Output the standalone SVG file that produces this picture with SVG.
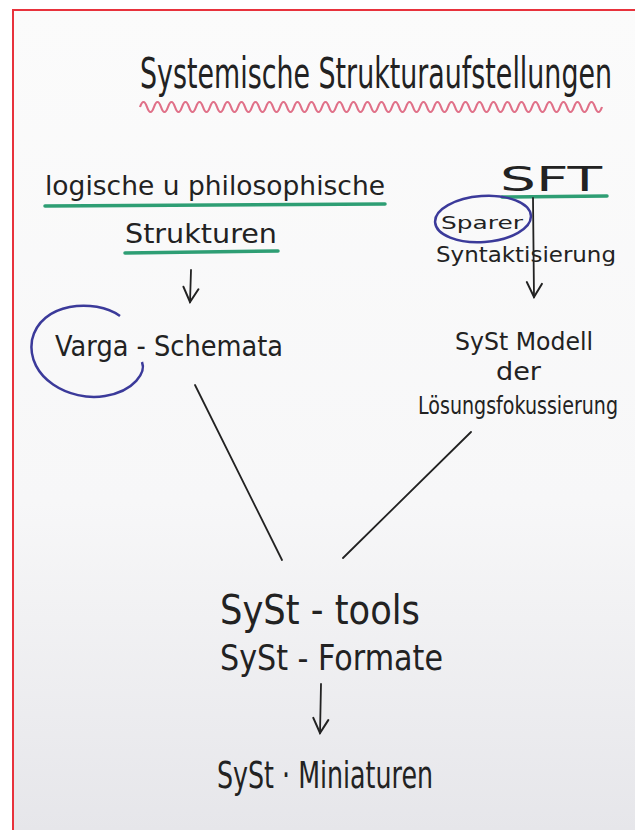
<svg xmlns="http://www.w3.org/2000/svg" width="635" height="830" viewBox="0 0 635 830">
<defs>
<linearGradient id="paper" x1="0" y1="0" x2="0" y2="1">
<stop offset="0" stop-color="#fbfbfb"/>
<stop offset="0.6" stop-color="#f7f7f8"/>
<stop offset="1" stop-color="#e6e6ea"/>
</linearGradient>
<marker id="ah" viewBox="0 0 20 20" refX="18" refY="10" markerWidth="20" markerHeight="20" markerUnits="userSpaceOnUse" orient="auto">
<path d="M5,2 L18,10 L3,17" fill="none" stroke="#222" stroke-width="2" stroke-linecap="round"/>
</marker>
<style>
.t{font-family:"DejaVu Sans","Liberation Sans",sans-serif;fill:#222;}
.g{stroke:#2e9e74;stroke-width:3.5;fill:none;stroke-linecap:round;}
.b{stroke:#3b3a9a;stroke-width:2.5;fill:none;}
.c{stroke:#222;stroke-width:1.8;fill:none;stroke-linecap:round;}
</style>
</defs>
<rect x="0" y="0" width="635" height="830" fill="#ffffff"/>
<rect x="13" y="10" width="622" height="820" fill="url(#paper)"/>
<path d="M13,830 L13,10 L635,10" fill="none" stroke="#e8323c" stroke-width="2"/>

<g id="title">
<text class="t" x="0" y="0" font-size="25" textLength="472" lengthAdjust="spacingAndGlyphs" transform="translate(140,88) scale(1,1.68)">Systemische Strukturaufstellungen</text>
<path d="M140,107 q3.5,-10 7,0 t7,0 t7,0 t7,0 t7,0 t7,0 t7,0 t7,0 t7,0 t7,0 t7,0 t7,0 t7,0 t7,0 t7,0 t7,0 t7,0 t7,0 t7,0 t7,0 t7,0 t7,0 t7,0 t7,0 t7,0 t7,0 t7,0 t7,0 t7,0 t7,0 t7,0 t7,0 t7,0 t7,0 t7,0 t7,0 t7,0 t7,0 t7,0 t7,0 t7,0 t7,0 t7,0 t7,0 t7,0 t7,0 t7,0 t7,0 t7,0 t7,0 t7,0 t7,0 t7,0 t7,0 t7,0 t7,0 t7,0 t7,0 t7,0 t7,0 t7,0 t7,0 t7,0 t7,0 t7,0 t7,0" fill="none" stroke="#e07088" stroke-width="2.2"/>
</g>

<g id="logische">
<text class="t" x="45" y="195" font-size="27" textLength="340" lengthAdjust="spacingAndGlyphs">logische u philosophische</text>
<path class="g" d="M45,206 L385,204"/>
<text class="t" x="125" y="243" font-size="27" textLength="152" lengthAdjust="spacingAndGlyphs">Strukturen</text>
<path class="g" d="M125,253 L278,251"/>
</g>

<g id="varga">
<text class="t" x="55" y="356" font-size="28" textLength="228" lengthAdjust="spacingAndGlyphs">Varga - Schemata</text>
<path class="b" d="M120,316 C95,298 40,302 32,340 C26,378 70,402 105,396 C135,391 146,372 142,362"/>
</g>

<g id="sft">
<text class="t" x="500" y="191" font-size="34" textLength="102" lengthAdjust="spacingAndGlyphs">SFT</text>
<path class="g" d="M502,197 L607,196"/>
<text class="t" x="441" y="229" font-size="18" textLength="82" lengthAdjust="spacingAndGlyphs">Sparer</text>
<ellipse class="b" cx="483" cy="219" rx="48" ry="23" transform="rotate(-4 483 219)"/>
<text class="t" x="436" y="262" font-size="21" textLength="180" lengthAdjust="spacingAndGlyphs">Syntaktisierung</text>
</g>

<g id="modell">
<text class="t" x="455" y="350" font-size="25" textLength="138" lengthAdjust="spacingAndGlyphs">SySt Modell</text>
<text class="t" x="496" y="380" font-size="25" textLength="45" lengthAdjust="spacingAndGlyphs">der</text>
<text class="t" x="0" y="0" font-size="18" textLength="200" lengthAdjust="spacingAndGlyphs" transform="translate(418,414) scale(1,1.33)">Lösungsfokussierung</text>
</g>

<g id="tools">
<text class="t" x="220" y="624" font-size="40" textLength="200" lengthAdjust="spacingAndGlyphs">SySt - tools</text>
<text class="t" x="220" y="670" font-size="36" textLength="223" lengthAdjust="spacingAndGlyphs">SySt - Formate</text>
</g>

<g id="miniaturen">
<text class="t" x="217" y="788" font-size="38" textLength="216" lengthAdjust="spacingAndGlyphs">SySt · Miniaturen</text>
</g>

<g id="connectors">
<path class="c" d="M191,270 L190,302" marker-end="url(#ah)"/>
<path class="c" d="M533,198 L534,297" marker-end="url(#ah)"/>
<path class="c" d="M195,385 L282,560"/>
<path class="c" d="M471,432 L343,558"/>
<path class="c" d="M321,684 L320,733" marker-end="url(#ah)"/>
</g>
</svg>
